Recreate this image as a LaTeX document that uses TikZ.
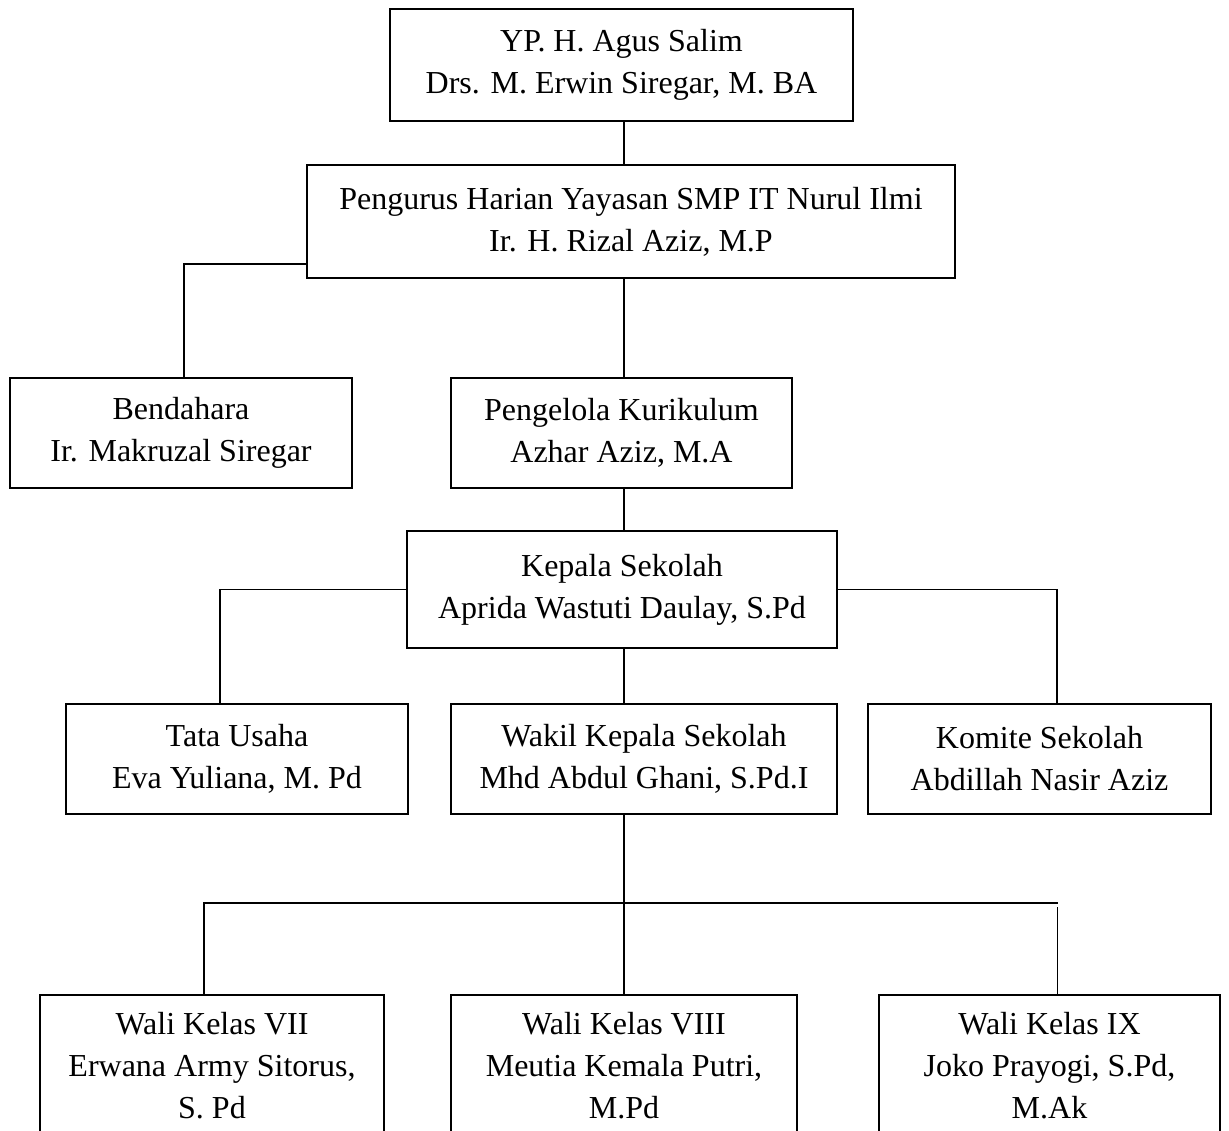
\documentclass[tikz,border=0pt]{standalone}
\usepackage{fontspec}
\setmainfont{Liberation Serif}
\tikzset{
  box/.style={draw,line width=1.7pt,align=center,inner sep=0pt,
    font=\fontsize{32}{42}\selectfont},
  link/.style={line width=1.7pt}
}

\begin{document}
\begin{tikzpicture}[x=1pt,y=-1pt]
  
  \def\mx{624} %spine
  \useasboundingbox (0,0) rectangle (1229,1131);
  \clip (0,0) rectangle (1229,1131);
  \fill[white] (0,0) rectangle (1229,1131);
  
  % boxes
  \node[box,minimum width=463,minimum height=112] (top) at (621.5,65)
    {YP. H. Agus Salim\\Drs. M. Erwin Siregar, M. BA};
  \node[box,minimum width=648,minimum height=113] (pengurus) at (631,221.5)
    {Pengurus Harian Yayasan SMP IT Nurul Ilmi\\Ir. H. Rizal Aziz, M.P};
  \node[box,minimum width=342,minimum height=110] (bendahara) at (181,433)
    {Bendahara\\Ir. Makruzal Siregar};
  \node[box,minimum width=341,minimum height=110] (pengelola) at (621.5,433)
    {Pengelola Kurikulum\\Azhar Aziz, M.A};
  \node[box,minimum width=430,minimum height=117] (kepala) at (622,589.5)
    {Kepala Sekolah\\Aprida Wastuti Daulay, S.Pd};
  \node[box,minimum width=342,minimum height=110] (tata) at (237,759)
    {Tata Usaha\\Eva Yuliana, M. Pd};
  \node[box,minimum width=386,minimum height=110] (wakil) at (644,759)
    {Wakil Kepala Sekolah\\Mhd Abdul Ghani, S.Pd.I};
  \node[box,minimum width=343,minimum height=110] (komite) at (1039.5,759)
    {Komite Sekolah\\Abdillah Nasir Aziz};
  \node[box,minimum width=344,minimum height=142] (wali7) at (212,1066)
    {Wali Kelas VII\\Erwana Army Sitorus,\\S. Pd};
  \node[box,minimum width=346,minimum height=142] (wali8) at (624,1066)
    {Wali Kelas VIII\\Meutia Kemala Putri,\\M.Pd};
  \node[box,minimum width=341,minimum height=142] (wali9) at (1049.5,1066)
    {Wali Kelas IX\\Joko Prayogi, S.Pd,\\M.Ak};
  
  % helper points
  \coordinate (spine) at (\mx,0);
  \coordinate (bus) at (\mx,903);
  \coordinate (w7top) at ([xshift=-8pt]wali7.north);
  \coordinate (w9top) at ([xshift=8pt]wali9.north);
  
  % lines
  \draw[link] (top.south -| spine) -- (pengurus.north -| spine);
  \draw[link] (pengurus.south -| spine) -- (pengelola.north -| spine);
  \draw[link] % to Bendahara
    ([yshift=15pt]pengurus.south west) -| ([xshift=3pt]bendahara.north);
  \draw[link] (pengelola.south -| spine) -- (kepala.north -| spine);
  \draw[link] % to Tata Usaha
    (kepala.west) -| ([xshift=-17pt]tata.north);
  \draw[link] % to Komite
    (kepala.east) -| ([xshift=17.5pt]komite.north);
  \draw[link] (kepala.south -| spine) -- (wakil.north -| spine);
  \draw[link] (wakil.south -| spine) -- (wali8.north);
  \draw[link] % bus to the Wali Kelas
    (w7top) |- (bus) -- (bus -| w9top);
  \draw[link] ([yshift=-4pt]bus -| w9top) -- (w9top);
  
\end{tikzpicture}
\end{document}
